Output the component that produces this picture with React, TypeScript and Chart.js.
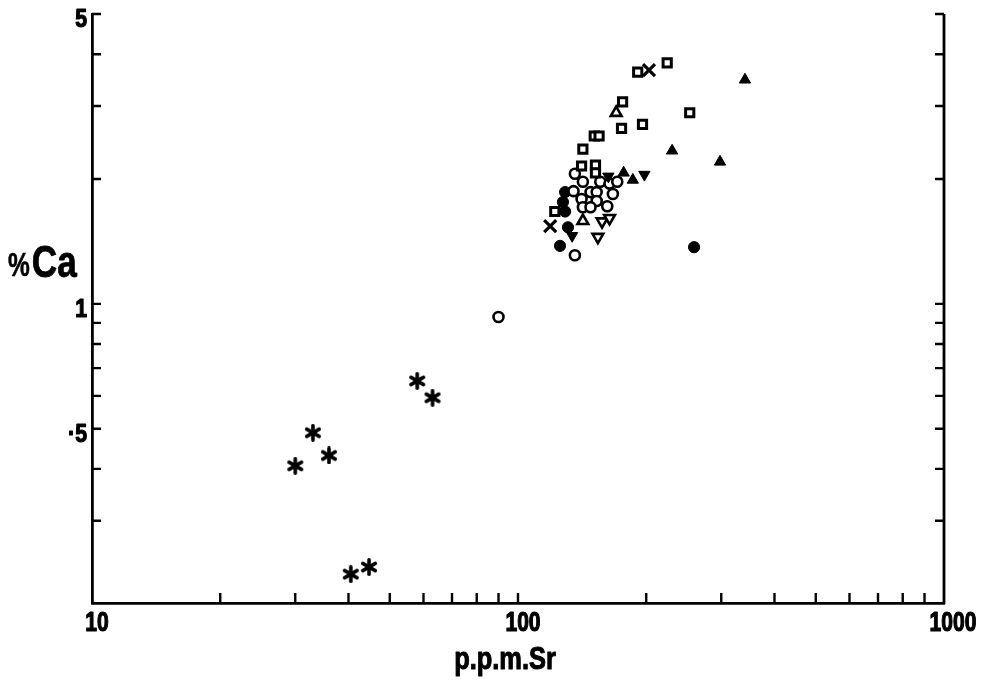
import React, { useEffect, useRef } from "react";
import { Chart, registerables } from "chart.js";

Chart.register(...registerables);

// Axis ranges (log-log)
const X_MIN = 10;
const X_MAX = 1000;
const Y_MIN = 0.19;
const Y_MAX = 5;

// Minor tick positions (inward ticks)
const X_TICK_VALUES = [20, 30, 40, 50, 60, 70, 80, 90, 100, 200, 300, 400, 500, 600, 700, 800, 900];
const Y_TICK_VALUES = [0.3, 0.4, 0.5, 0.6, 0.7, 0.8, 0.9, 1, 2, 3, 4, 5];

// Tick labels
const X_LABEL_VALUES = [10, 100, 1000];
const X_LABEL_TEXT = ["10", "100", "1000"];
const Y_LABEL_VALUES = [5, 1, 0.5];
const Y_LABEL_TEXT = ["5", "1", "·5"];

const X_TITLE = "p.p.m.Sr";
const Y_TITLE_PCT = "%";
const Y_TITLE_MAIN = "Ca";

// Series: Sr (ppm) and Ca (%)
const asteriskSr = [58, 63, 33, 36, 30, 40.5, 44.7];
const asteriskCa = [0.652, 0.594, 0.489, 0.431, 0.407, 0.223, 0.232];

const openSquareSr = [191, 224, 176, 175, 196, 253, 151, 155, 142, 141, 152, 152, 122];
const openSquareCa = [3.62, 3.81, 3.07, 2.65, 2.71, 2.89, 2.54, 2.54, 2.36, 2.15, 2.16, 2.07, 1.67];

const openTriangleSr = [170, 142];
const openTriangleCa = [2.89, 1.585];

const filledTriangleSr = [341, 230, 298, 177, 186];
const filledTriangleCa = [3.47, 2.34, 2.2, 2.07, 1.99];

const openInvTriangleSr = [157.5, 164, 154];
const openInvTriangleCa = [1.58, 1.61, 1.45];

const filledInvTriangleSr = [163, 198, 134];
const filledInvTriangleCa = [2.03, 2.05, 1.46];

const openCircleSr = [90, 136, 135, 142, 148, 156, 164, 171, 153, 141, 142, 153, 162, 148, 136, 167];
const openCircleCa = [0.93, 2.06, 1.87, 1.97, 1.86, 1.97, 1.95, 1.97, 1.86, 1.79, 1.71, 1.77, 1.72, 1.71, 1.31, 1.84];

const filledCircleSr = [129, 127.5, 129, 131, 125.5, 259];
const filledCircleCa = [1.86, 1.76, 1.67, 1.53, 1.38, 1.37];

const crossSr = [203, 119];
const crossCa = [3.66, 1.54];

const barSr = [167, 148, 155];
const barCa = [1.84, 1.86, 1.79];

const FONT = "'Liberation Sans', Arial, sans-serif";

function makeAsterisk(): HTMLCanvasElement {
  const c = document.createElement("canvas");
  c.width = 18;
  c.height = 18;
  const g = c.getContext("2d")!;
  g.strokeStyle = "#000";
  g.fillStyle = "#000";
  g.lineWidth = 3.6;
  g.lineCap = "round";
  g.translate(9, 9);
  for (let i = 0; i < 3; i++) {
    const a = Math.PI / 2 + (i * Math.PI) / 3;
    g.beginPath();
    g.moveTo(Math.cos(a) * 7.2, Math.sin(a) * 7.2);
    g.lineTo(-Math.cos(a) * 7.2, -Math.sin(a) * 7.2);
    g.stroke();
  }
  g.beginPath();
  g.arc(0, 0, 3.2, 0, Math.PI * 2);
  g.fill();
  return c;
}

function pts(xs: number[], ys: number[]) {
  return xs.map((x, i) => ({ x, y: ys[i] }));
}

function boldText(ctx: CanvasRenderingContext2D, t: string, x: number, y: number, sw: number) {
  ctx.lineWidth = sw;
  ctx.lineJoin = "round";
  ctx.strokeText(t, x, y);
  ctx.fillText(t, x, y);
}

const decorPlugin = {
  id: "decor",
  afterDraw(chart: any) {
    const ctx = chart.ctx as CanvasRenderingContext2D;
    const xs = chart.scales.x;
    const ys = chart.scales.y;
    const ca = chart.chartArea;
    ctx.save();
    ctx.strokeStyle = "#000";
    ctx.fillStyle = "#000";
    // right axis line
    ctx.lineWidth = 2.8;
    ctx.beginPath();
    ctx.moveTo(ca.right, ca.top);
    ctx.lineTo(ca.right, ca.bottom + 1);
    ctx.stroke();
    // ticks
    ctx.lineWidth = 2.4;
    X_TICK_VALUES.forEach((v) => {
      const px = xs.getPixelForValue(v);
      ctx.beginPath();
      ctx.moveTo(px, ca.bottom);
      ctx.lineTo(px, ca.bottom - 10);
      ctx.stroke();
    });
    Y_TICK_VALUES.forEach((v) => {
      const py = ys.getPixelForValue(v);
      ctx.beginPath();
      ctx.moveTo(ca.left, py);
      ctx.lineTo(ca.left + 9, py);
      ctx.moveTo(ca.right, py);
      ctx.lineTo(ca.right - 9, py);
      ctx.stroke();
    });
    // x labels
    ctx.font = `bold 27px ${FONT}`;
    ctx.textAlign = "center";
    ctx.textBaseline = "alphabetic";
    X_LABEL_VALUES.forEach((v, i) => {
      const px = xs.getPixelForValue(v) + (i === 2 ? 9 : 5);
      ctx.save();
      ctx.translate(px, 631);
      ctx.scale(0.78, 1);
      boldText(ctx, X_LABEL_TEXT[i], 0, 0, 1.2);
      ctx.restore();
    });
    // y labels
    ctx.font = `bold 25px ${FONT}`;
    ctx.textAlign = "right";
    Y_LABEL_VALUES.forEach((v, i) => {
      const py = ys.getPixelForValue(v) + 13;
      ctx.save();
      ctx.translate(ca.left - 5, py);
      ctx.scale(0.85, 1);
      boldText(ctx, Y_LABEL_TEXT[i], 0, 0, 1.2);
      ctx.restore();
    });
    // x title
    ctx.font = `bold 31px ${FONT}`;
    ctx.textAlign = "center";
    ctx.save();
    ctx.translate(xs.getPixelForValue(100) - 13, 669);
    ctx.scale(0.82, 1);
    boldText(ctx, X_TITLE, 0, 0, 1);
    ctx.restore();
    // y title
    ctx.textAlign = "left";
    ctx.save();
    ctx.translate(8, 277);
    ctx.scale(0.72, 1);
    ctx.font = `bold 34px ${FONT}`;
    boldText(ctx, Y_TITLE_PCT, 0, -1, 0.6);
    const w = ctx.measureText(Y_TITLE_PCT).width;
    ctx.restore();
    ctx.save();
    ctx.translate(8 + w * 0.72 + 2, 277);
    ctx.scale(0.8, 1);
    ctx.font = `bold 44px ${FONT}`;
    boldText(ctx, Y_TITLE_MAIN, 0, 0, 0.8);
    ctx.restore();
    ctx.restore();
  },
};

export default function App() {
  const ref = useRef<HTMLCanvasElement | null>(null);
  useEffect(() => {
    if (!ref.current) return;
    const asterisk = makeAsterisk();
    const black = "#000";
    const white = "#fff";
    const chart = new Chart(ref.current, {
      type: "scatter",
      data: {
        datasets: [
          {
            label: "open squares",
            data: pts(openSquareSr, openSquareCa),
            pointStyle: "rect",
            pointRadius: 5.8,
            borderWidth: 3,
            borderColor: black,
            backgroundColor: white,
          },
          {
            label: "filled triangles",
            data: pts(filledTriangleSr, filledTriangleCa),
            pointStyle: "triangle",
            pointRadius: 6.5,
            borderWidth: 1,
            borderColor: black,
            backgroundColor: black,
          },
          {
            label: "filled inverted triangles",
            data: pts(filledInvTriangleSr, filledInvTriangleCa),
            pointStyle: "triangle",
            pointRotation: 180,
            pointRadius: 6.5,
            borderWidth: 1,
            borderColor: black,
            backgroundColor: black,
          },
          {
            label: "open circles",
            data: pts(openCircleSr, openCircleCa),
            pointStyle: "circle",
            pointRadius: 5,
            borderWidth: 2.6,
            borderColor: black,
            backgroundColor: white,
          },
          {
            label: "filled circles",
            data: pts(filledCircleSr, filledCircleCa),
            pointStyle: "circle",
            pointRadius: 5.6,
            borderWidth: 1,
            borderColor: black,
            backgroundColor: black,
          },
          {
            label: "open triangles",
            data: pts(openTriangleSr, openTriangleCa),
            pointStyle: "triangle",
            pointRadius: 6.2,
            borderWidth: 2.6,
            borderColor: black,
            backgroundColor: white,
          },
          {
            label: "open inverted triangles",
            data: pts(openInvTriangleSr, openInvTriangleCa),
            pointStyle: "triangle",
            pointRotation: 180,
            pointRadius: 6.2,
            borderWidth: 2.6,
            borderColor: black,
            backgroundColor: white,
          },
          {
            label: "bars",
            data: pts(barSr, barCa),
            pointStyle: "line",
            pointRotation: 90,
            pointRadius: 5,
            borderWidth: 2.4,
            borderColor: black,
            backgroundColor: black,
          },
          {
            label: "crosses",
            data: pts(crossSr, crossCa),
            pointStyle: "crossRot",
            pointRadius: 8.5,
            borderWidth: 3.2,
            borderColor: black,
            backgroundColor: black,
          },
          {
            label: "asterisks",
            data: pts(asteriskSr, asteriskCa),
            pointStyle: asterisk as any,
            pointRadius: 9,
            borderColor: black,
            backgroundColor: black,
          },
        ],
      },
      options: {
        animation: false,
        responsive: true,
        maintainAspectRatio: false,
        layout: { padding: { left: 92, right: 50, top: 14, bottom: 78 } },
        plugins: { legend: { display: false }, tooltip: { enabled: false } },
        scales: {
          x: {
            type: "logarithmic",
            min: X_MIN,
            max: X_MAX,
            ticks: { display: false },
            grid: { display: false },
            border: { display: true, color: "#000", width: 2.8 },
            afterFit: (s: any) => {
              s.height = 0;
            },
          },
          y: {
            type: "logarithmic",
            min: Y_MIN,
            max: Y_MAX,
            ticks: { display: false },
            grid: { display: false },
            border: { display: true, color: "#000", width: 2.8 },
            afterFit: (s: any) => {
              s.width = 0;
            },
          },
        },
      } as any,
      plugins: [decorPlugin],
    });
    return () => chart.destroy();
  }, []);
  return (
    <div style={{ position: "fixed", left: 0, top: 0, width: 994, height: 681, background: "#fff" }}>
      <canvas ref={ref} />
    </div>
  );
}
